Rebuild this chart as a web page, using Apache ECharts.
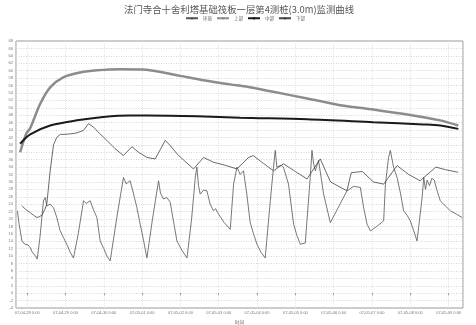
<!DOCTYPE html>
<html><head><meta charset="utf-8">
<script src="https://cdn.jsdelivr.net/npm/echarts@6/dist/echarts.min.js"></script>
<style>html,body{margin:0;padding:0;background:#fff}#c{width:476px;height:325px}</style>
</head><body><div id="c"></div>
<script>
// hours from 2007-04-28 0:00, value in ℃
const seriesNames = ['环境', '上部', '中部', '下部'];
const envData = [[-6.1,22.2],[-5.2,19],[-3.3,14.1],[-1.5,13.2],[0.5,13],[1.9,12.3],[3,11.2],[4,11.5],[5.2,10],[6.3,9.2],[8,15],[10.2,24.9],[11.3,25.8],[12.3,23.5],[14.4,24],[16.5,23],[18.6,20.4],[20.5,17],[22.7,15],[25,13],[27,11],[29,9.5],[32,16],[35.3,24.9],[37,24.2],[39.5,24.9],[41.5,22.5],[43.7,20.4],[45.7,14.1],[48,12],[50,10],[52,8.7],[56,20],[60.3,31.2],[62,29.5],[64.5,30.3],[66.5,27],[68.7,23.1],[70.8,18.6],[73,14],[75,9.5],[78.5,20],[82.3,30.3],[83.5,27],[85.4,25.4],[87.5,25.8],[89.6,24.5],[91.8,19],[93.8,14.1],[97,11.5],[100.1,9.5],[103,20],[105.3,31.2],[106.3,34],[107.3,29],[108.4,26.7],[110.5,27.8],[112.6,27.6],[114.6,24],[116.7,22.2],[118,22.8],[119.9,21.3],[123.5,19],[127.2,17.2],[129.3,29.4],[131.4,34],[133.4,32],[135.5,33],[137.5,27],[139.7,19],[141.8,16],[143.9,13.2],[146.5,11],[149.1,9.5],[152.3,24.9],[154.3,34],[155.4,38.5],[156.4,34],[157.5,33.5],[159,34.5],[160.5,34],[163.7,29.4],[166.9,18.6],[169,15.5],[171.1,13.2],[174.2,13.5],[177.3,31.2],[178.4,38.5],[179.4,35],[180.5,33],[182.5,35.8],[185.7,26.7],[189.9,19],[200.3,27.6],[204.5,28.8],[208.7,28.5],[210.8,23],[212.9,18.6],[215,16.8],[219,18],[223.3,19.5],[224.4,29.4],[226.4,36.6],[227.5,38.5],[229.5,34],[231.7,31.2],[233.8,27],[235.8,22.2],[238,21],[240,19.5],[242,17],[244.2,14.1],[247.4,25.8],[248.4,31.2],[249.5,28],[250.5,30.5],[252,29],[253.5,31],[255,30.5],[256.5,28],[258.8,24.9],[262,23.5],[265.1,22.2],[269,21.3],[272.5,20.4]];
const topData = [[-4.4,38],[-0.6,43],[1.9,44.5],[8.1,51],[14.4,55.5],[22.6,58.2],[33.2,59.5],[43.9,60.1],[58.3,60.4],[72.7,60.3],[79,60],[95.9,58.6],[110.3,57.4],[127.2,56.3],[138.5,55.6],[154.1,54.3],[175.4,52.5],[196.1,50.7],[216.8,49.5],[238.1,48.2],[258.8,46.6],[270.1,45.2]];
const midData = [[-4.4,40.3],[1.9,42.8],[14.4,45.2],[31.3,46.6],[47.6,47.5],[64.5,47.9],[75.2,47.9],[106.5,47.7],[133.5,47.3],[175.4,46.9],[216.8,46.1],[248.1,45.5],[258.8,45.2],[270.1,44.3]];
const botData = [[-3.3,23.6],[-1,22.6],[1.9,21.7],[4,21],[6.1,20.4],[7.5,20.6],[9.2,21],[11,22.5],[12.3,24],[14.4,33],[16.5,40],[18.5,42],[20.7,42.8],[26,42.9],[31.1,43.2],[35.3,43.9],[38.4,45.7],[41.5,44.8],[45.5,43],[49.9,41.2],[55,39],[60.3,37.1],[65.6,39.5],[69.7,38],[75,36.6],[80.2,36.2],[86.5,41.2],[89.6,39.8],[93.8,37.6],[99,35.5],[104.2,33.5],[110.5,36.6],[116.7,35.3],[124,34.5],[131.4,33.5],[138.7,36.6],[141.6,37.1],[148,35],[154.3,33],[160.6,34.9],[168,32.8],[175.3,30.8],[183.6,36.2],[190,30],[200.3,27.6],[203,32.5],[210,32.8],[216.8,30],[223.3,29.4],[231.7,34.4],[239,32],[246.2,30.3],[248,31],[256,34],[262,33.3],[270,32.6]];
const yMin = -4, yMax = 68, yStep = 2;
const xStartH = -7, xEndH = 273;

const base = Date.UTC(2007, 3, 28);
const H = 3600 * 1000;
const toT = arr => arr.map(p => [base + p[0] * H, p[1]]);
const pad = n => (n < 10 ? '0' : '') + n;

const chart = echarts.init(document.getElementById('c'), null, {renderer: 'canvas'});
chart.setOption({
  useUTC: true,
  animation: false,
  backgroundColor: '#fff',
  title: {
    text: '法门寺合十舍利塔基础筏板一层第4测桩(3.0m)监测曲线',
    left: 119, top: 0,
    textStyle: {fontFamily: 'Noto Sans CJK SC', fontSize: 9.4, fontWeight: 'normal', color: '#555'}
  },
  legend: {
    data: seriesNames,
    left: 180, top: 11,
    itemWidth: 12, itemHeight: 3, itemGap: 4,
    textStyle: {fontFamily: 'Noto Sans CJK SC', fontSize: 4.5, color: '#666'}
  },
  grid: {left: 16, right: 13, top: 41, bottom: 17, containLabel: false, outerBoundsMode: 'none', show: true, borderColor: '#999', borderWidth: 1, backgroundColor: 'transparent'},
  xAxis: {
    type: 'time',
    min: base + xStartH * H, max: base + xEndH * H,
    minInterval: 24 * H, maxInterval: 24 * H,
    name: '时间', nameLocation: 'middle', nameGap: 10,
    nameTextStyle: {fontFamily: 'Noto Sans CJK SC', fontSize: 4.5, color: '#666'},
    axisLine: {show: false},
    axisTick: {show: true, length: 2, lineStyle: {color: '#999'}},
    axisLabel: {
      fontSize: 4, color: '#777', margin: 3, hideOverlap: false,
      formatter: v => { const d = new Date(v); return '07-' + pad(d.getUTCMonth() + 1) + '-' + pad(d.getUTCDate()) + ' 0:00'; }
    },
    splitLine: {show: true, lineStyle: {color: '#ddd', width: 0.8, type: [1, 1]}}
  },
  yAxis: {
    type: 'value', min: yMin, max: yMax, interval: yStep,
    name: '温度(℃)', nameLocation: 'middle', nameGap: 9, nameRotate: 90,
    nameTextStyle: {fontFamily: 'Noto Sans CJK SC', fontSize: 4.5, color: '#666'},
    axisLine: {show: false}, axisTick: {show: false},
    axisLabel: {fontSize: 4, color: '#777', margin: 3},
    splitLine: {show: true, lineStyle: {color: '#ccc', width: 0.8, type: [1, 1.5]}}
  },
  series: [
    {name: '环境', type: 'line', data: toT(envData), showSymbol: false, symbol: 'none', lineStyle: {color: '#555', width: 0.8}, itemStyle: {color: '#555'}},
    {name: '上部', type: 'line', data: toT(topData), showSymbol: false, symbol: 'none', smooth: 0.3, lineStyle: {color: '#8c8c8c', width: 2.5}, itemStyle: {color: '#8c8c8c'}},
    {name: '中部', type: 'line', data: toT(midData), showSymbol: false, symbol: 'circle', symbolSize: 3, smooth: 0.3, lineStyle: {color: '#1a1a1a', width: 2}, itemStyle: {color: '#1a1a1a'}},
    {name: '下部', type: 'line', data: toT(botData), showSymbol: false, symbol: 'circle', symbolSize: 3, lineStyle: {color: '#444', width: 0.8}, itemStyle: {color: '#444'}}
  ]
});
</script></body></html>
